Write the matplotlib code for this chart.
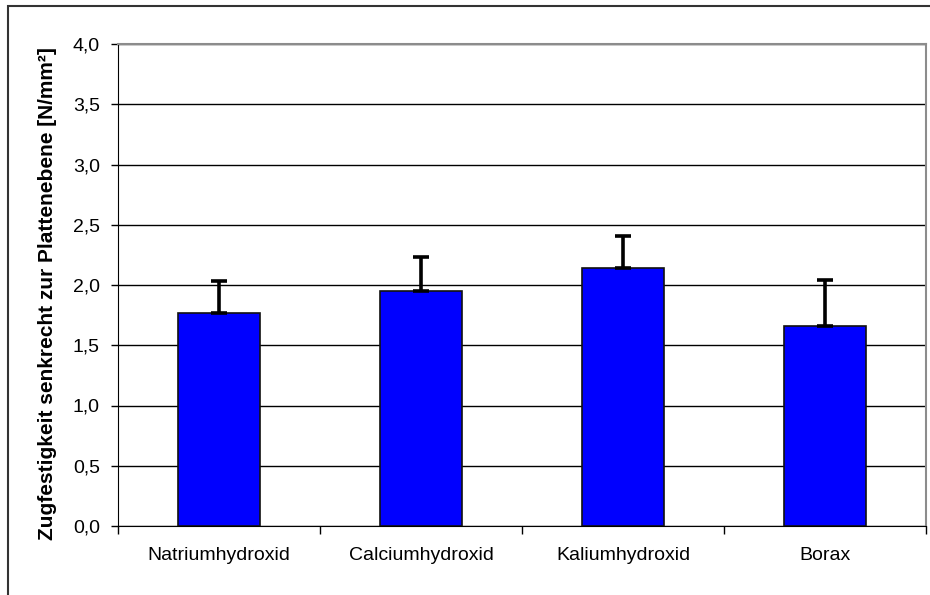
import numpy as np
import matplotlib
matplotlib.use("Agg")
import matplotlib.pyplot as plt
from matplotlib.patches import Rectangle

categories = ["Natriumhydroxid", "Calciumhydroxid", "Kaliumhydroxid", "Borax"]
values = [1.77, 1.95, 2.14, 1.66]
errors = [0.26, 0.28, 0.27, 0.38]
yticks = [0.0, 0.5, 1.0, 1.5, 2.0, 2.5, 3.0, 3.5, 4.0]
ylabel = "Zugfestigkeit senkrecht zur Plattenebene [N/mm²]"

plt.rcParams["font.family"] = ["Liberation Sans", "DejaVu Sans"]

W, H = 930, 595
fig = plt.figure(figsize=(W / 100, H / 100), dpi=100)
ax = fig.add_axes([118 / W, 1 - 526 / H, 808 / W, 482 / H])

x = np.arange(len(categories))
ax.bar(x, values, width=0.405, color="#0000FF", edgecolor="#111111", linewidth=1.2, zorder=3)
ax.errorbar(x, values, yerr=[np.zeros(len(errors)), errors], fmt="none",
            ecolor="black", elinewidth=2.6, capsize=6, capthick=2.6, zorder=4)

ax.set_xlim(-0.5, len(categories) - 0.5)
ax.set_ylim(0, 4.0)
ax.set_yticks(yticks)
ax.set_yticklabels([f"{t:.1f}".replace(".", ",") for t in yticks], fontsize=14)
ax.yaxis.grid(True, color="black", linewidth=1.0, zorder=0)

ax.set_xticks(x)
ax.set_xticklabels(categories, fontsize=14)
ax.set_xticks(np.arange(-0.5, len(categories)), minor=True)
ax.tick_params(axis="x", which="major", length=0, pad=15)
ax.tick_params(axis="x", which="minor", length=6, width=1, direction="out")
ax.tick_params(axis="y", length=5, width=1, direction="out", pad=8)

for side in ["top", "right"]:
    ax.spines[side].set_color("#8c8c8c")
    ax.spines[side].set_linewidth(1.5)
ax.spines["left"].set_color("black")
ax.spines["bottom"].set_color("black")

fig.text(48 / W, 1 - 294 / H, ylabel, rotation=90, fontsize=15, fontweight="bold",
         ha="center", va="center")

# chart area frame, cut off at right and bottom edge
fig.patches.append(Rectangle((8 / W, -0.05), 1.1, 1 - 6 / H + 0.05, transform=fig.transFigure,
                             fill=False, edgecolor="#333333", linewidth=1.5))

fig.savefig("out.png", dpi=100)
